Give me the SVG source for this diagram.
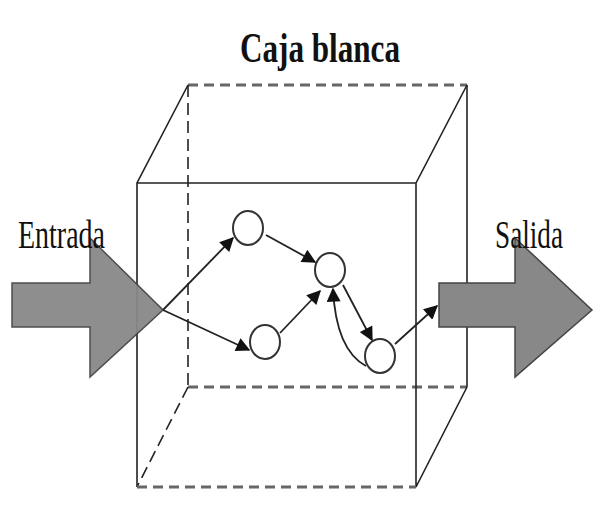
<svg xmlns="http://www.w3.org/2000/svg" width="600" height="511" viewBox="0 0 600 511">
<style>
.t{font-family:"Liberation Serif",serif;fill:#111}
.e{fill:none;stroke:#222;stroke-width:1.8}
.box{fill:none;stroke:#222;stroke-width:1.6}
.dg{fill:none;stroke:#666;stroke-width:3;stroke-dasharray:10 6}
.dk{fill:none;stroke:#222;stroke-width:1.6;stroke-dasharray:12 6}
.n{fill:#fff;stroke:#333;stroke-width:2}
.big{fill:#888;stroke:#444;stroke-width:1.5}
</style>
<defs>
<marker id="b" viewBox="0 0 10 10" refX="9" refY="5" markerWidth="16" markerHeight="14" markerUnits="userSpaceOnUse" orient="auto"><path d="M0,0L10,5L0,10z" fill="#111"/></marker></defs>
<text class="t" x="240" y="62" font-size="42" font-weight="bold" textLength="160" lengthAdjust="spacingAndGlyphs">Caja blanca</text>
<g id="box">
<line class="dg" x1="188" y1="85" x2="467" y2="85"/>
<line class="dk" x1="188" y1="85" x2="188" y2="387"/>
<line class="dg" x1="188" y1="387" x2="467" y2="387"/>
<line class="dk" x1="188" y1="387" x2="137" y2="487"/>
<line class="box" x1="467" y1="85" x2="467" y2="387"/>
<path class="box" d="M137,487V183L188,85M137,183H416L467,85M416,183V487L467,387"/>
<line class="dg" x1="137" y1="487" x2="416" y2="487"/>
</g>
<g id="entrada"><path class="big" d="M12,283H90V238L163,310L90,377V327H12z" opacity="0.95"/><text class="t" x="18" y="248" font-size="40" textLength="87" lengthAdjust="spacingAndGlyphs">Entrada</text></g>
<g id="salida"><path class="big" d="M439,283H515V238L592,310L515,377V327H439z"/><text class="t" x="495" y="248" font-size="40" textLength="68" lengthAdjust="spacingAndGlyphs">Salida</text></g>
<g id="n1"><ellipse class="n" cx="248" cy="228" rx="15" ry="17"/></g>
<g id="n2"><ellipse class="n" cx="330" cy="270" rx="15" ry="17"/></g>
<g id="n3"><ellipse class="n" cx="265" cy="342" rx="15" ry="17"/></g>
<g id="n4"><ellipse class="n" cx="380" cy="356" rx="15" ry="17"/></g>
<g id="connectors" class="e">
<path class="e" d="M163,310L233,238" marker-end="url(#b)"/>
<path class="e" d="M163,310L249,350" marker-end="url(#b)"/>
<path class="e" d="M266,235L315,262" marker-end="url(#b)"/>
<path class="e" d="M280,333L320,291" marker-end="url(#b)"/>
<path class="e" d="M343,285L372,340" marker-end="url(#b)"/>
<path class="e" d="M366,366Q336,350 333,289" marker-end="url(#b)"/>
<path class="e" d="M395,344L437,306" marker-end="url(#b)"/>
</g>
</svg>
